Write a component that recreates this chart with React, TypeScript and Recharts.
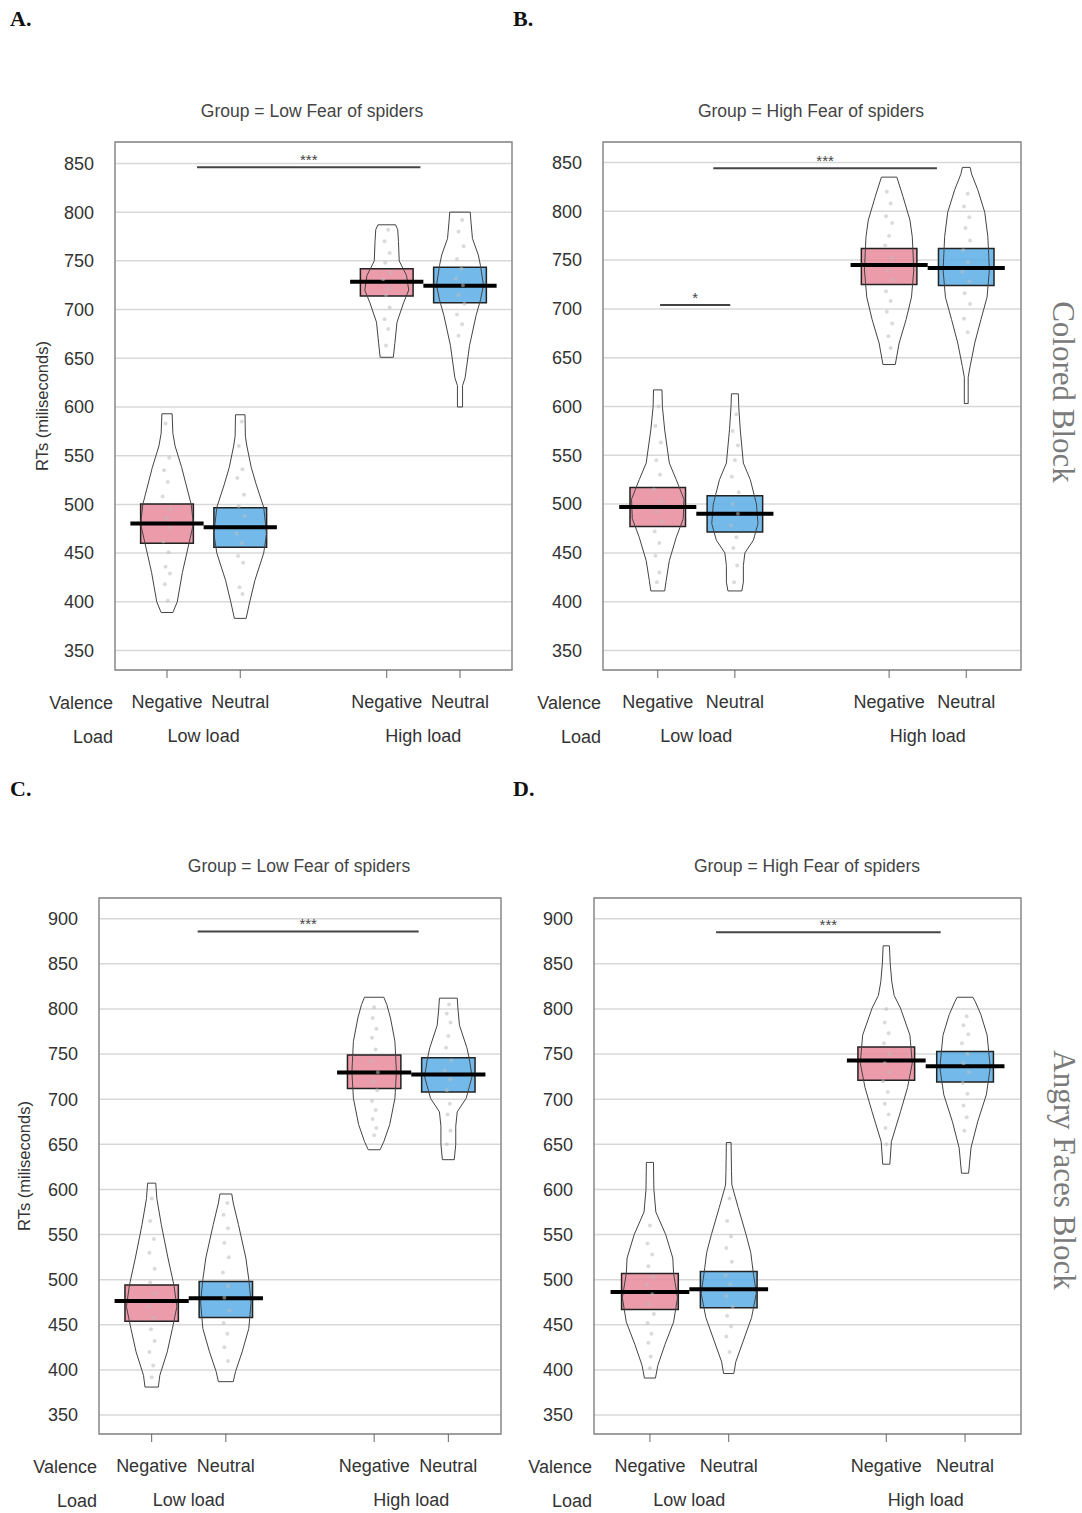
import React from "react";
import {
  ComposedChart,
  Line,
  Scatter,
  XAxis,
  YAxis,
  CartesianGrid,
  ReferenceArea,
  ReferenceLine,
  Label,
} from "recharts";

// groups on the x axis (pirate plot positions, gap between loads)
const POSITIONS = [1, 2, 4, 5];
const VALENCE = ["Negative", "Neutral", "Negative", "Neutral"];
const LOAD_POSITIONS = [1.5, 4.5];
const LOADS = ["Low load", "High load"];
const X_DOMAIN = [0.29, 5.71];

const TICKS_COLORED = [350, 400, 450, 500, 550, 600, 650, 700, 750, 800, 850];
const TICKS_FACES = [350, 400, 450, 500, 550, 600, 650, 700, 750, 800, 850, 900];

// ---- A. Colored block, low fear ----
const A_MEAN = [480.5, 476.5, 728.5, 724.5];
const A_CI_LO = [460, 456, 714, 707];
const A_CI_HI = [500.5, 496.5, 742, 743.5];
// violin outline: [RT, half width in x units], bottom to top
const A_VIOLINS = [
  [[389, 0.08], [400, 0.14], [430, 0.21], [460, 0.3], [480, 0.36], [500, 0.33], [538, 0.2], [560, 0.11], [573, 0.08], [593, 0.07]],
  [[383, 0.08], [400, 0.13], [422, 0.2], [450, 0.32], [470, 0.36], [497, 0.32], [520, 0.22], [538, 0.15], [560, 0.09], [570, 0.07], [592, 0.065]],
  [[651, 0.09], [665, 0.11], [687, 0.14], [707, 0.23], [720, 0.3], [735, 0.27], [750, 0.17], [770, 0.16], [782, 0.15], [787, 0.12]],
  [[600, 0.035], [622, 0.035], [630, 0.07], [663, 0.13], [694, 0.22], [710, 0.28], [725, 0.32], [745, 0.28], [756, 0.25], [773, 0.17], [790, 0.15], [800, 0.14]],
];
const A_POINTS = [
  [[583, -0.02], [548, 0.03], [535, -0.04], [523, 0.01], [508, -0.06], [495, 0.05], [486, -0.01], [476, 0.04], [462, -0.05], [451, 0.02], [436, -0.02], [429, 0.04], [418, -0.03], [401, 0.01]],
  [[585, 0.02], [560, -0.02], [536, 0.03], [527, -0.04], [510, 0.05], [498, -0.02], [488, 0.06], [470, -0.05], [460, 0.02], [447, -0.03], [440, 0.04], [415, -0.01], [408, 0.03]],
  [[782, 0.02], [770, -0.03], [758, 0.04], [748, -0.02], [738, 0.05], [731, -0.05], [722, 0.03], [715, -0.01], [702, 0.04], [690, -0.03], [680, 0.02], [663, -0.01]],
  [[792, 0.03], [780, -0.02], [765, 0.05], [752, -0.04], [742, 0.02], [732, -0.06], [725, 0.04], [715, -0.02], [706, 0.06], [695, -0.04], [685, 0.03], [673, -0.02]],
];
const A_SIG = [{ from: 1.41, to: 4.46, y: 846, text: "***" }];

// ---- B. Colored block, high fear ----
const B_MEAN = [497, 490, 745, 742];
const B_CI_LO = [477, 471.5, 725, 724];
const B_CI_HI = [517, 508.5, 762, 762];
const B_VIOLINS = [
  [[411, 0.09], [422, 0.11], [442, 0.15], [466, 0.24], [485, 0.33], [505, 0.34], [525, 0.24], [542, 0.15], [576, 0.09], [600, 0.06], [617, 0.055]],
  [[411, 0.09], [420, 0.11], [437, 0.11], [450, 0.13], [463, 0.24], [480, 0.3], [500, 0.28], [525, 0.2], [542, 0.11], [576, 0.07], [600, 0.05], [613, 0.045]],
  [[643, 0.08], [665, 0.13], [689, 0.22], [712, 0.29], [740, 0.32], [774, 0.3], [791, 0.27], [815, 0.18], [830, 0.12], [835, 0.1]],
  [[603, 0.025], [630, 0.025], [641, 0.05], [665, 0.11], [689, 0.19], [712, 0.27], [740, 0.3], [774, 0.28], [799, 0.24], [822, 0.15], [838, 0.07], [845, 0.05]],
];
const B_POINTS = [
  [[600, 0.01], [580, -0.03], [563, 0.04], [545, -0.02], [530, 0.03], [515, -0.05], [503, 0.04], [492, -0.02], [482, 0.05], [472, -0.04], [460, 0.02], [447, -0.03], [430, 0.02], [420, -0.01]],
  [[592, 0.02], [575, -0.03], [560, 0.04], [545, 0.0], [528, -0.04], [512, 0.05], [500, -0.03], [490, 0.04], [478, -0.05], [466, 0.02], [455, -0.02], [437, 0.03], [420, -0.01]],
  [[820, -0.03], [808, 0.02], [795, -0.04], [788, 0.04], [775, 0.0], [765, -0.05], [752, 0.04], [740, -0.02], [730, 0.05], [718, -0.04], [708, 0.02], [697, -0.03], [685, 0.04], [672, -0.01], [660, 0.02]],
  [[818, 0.02], [805, -0.03], [794, 0.04], [783, -0.01], [770, 0.05], [760, -0.04], [748, 0.02], [738, -0.05], [728, 0.04], [716, -0.02], [705, 0.05], [690, -0.03], [676, 0.02]],
];
const B_SIG = [
  { from: 1.72, to: 4.62, y: 844, text: "***" },
  { from: 1.03, to: 1.94, y: 704, text: "*" },
];

// ---- C. Angry faces block, low fear ----
const C_MEAN = [476.5, 479.5, 729.5, 727.5];
const C_CI_LO = [454, 458, 712, 708];
const C_CI_HI = [494, 498, 749, 746];
const C_VIOLINS = [
  [[381, 0.09], [394, 0.11], [420, 0.21], [446, 0.28], [470, 0.34], [494, 0.3], [524, 0.22], [561, 0.13], [590, 0.07], [607, 0.055]],
  [[387, 0.1], [398, 0.13], [420, 0.22], [446, 0.31], [475, 0.34], [500, 0.31], [524, 0.27], [561, 0.17], [585, 0.1], [595, 0.08]],
  [[644, 0.08], [653, 0.13], [672, 0.21], [701, 0.28], [730, 0.3], [764, 0.28], [790, 0.22], [805, 0.17], [813, 0.13]],
  [[633, 0.08], [650, 0.1], [670, 0.1], [686, 0.12], [701, 0.24], [725, 0.32], [746, 0.28], [757, 0.25], [782, 0.15], [800, 0.13], [812, 0.12]],
];
const C_POINTS = [
  [[590, 0.0], [565, -0.02], [545, 0.03], [530, -0.03], [512, 0.04], [497, -0.02], [485, 0.05], [470, -0.04], [458, 0.03], [445, -0.01], [432, 0.04], [420, -0.03], [405, 0.02], [392, 0.0]],
  [[585, 0.02], [572, -0.03], [557, 0.03], [541, -0.02], [525, 0.04], [508, -0.04], [493, 0.03], [480, -0.02], [466, 0.05], [452, -0.03], [440, 0.02], [425, -0.02], [410, 0.03]],
  [[802, 0.0], [790, -0.02], [778, 0.03], [768, -0.03], [755, 0.02], [742, -0.04], [730, 0.05], [720, -0.01], [710, 0.04], [698, -0.03], [688, 0.02], [678, -0.02], [668, 0.03], [660, 0.0]],
  [[805, 0.01], [795, -0.02], [785, 0.03], [770, 0.0], [757, -0.03], [743, 0.04], [732, -0.05], [722, 0.03], [710, -0.02], [695, 0.02], [683, -0.01], [665, 0.03], [650, -0.02]],
];
const C_SIG = [{ from: 1.62, to: 4.6, y: 886, text: "***" }];

// ---- D. Angry faces block, high fear ----
const D_MEAN = [486.5, 489.5, 743, 736.5];
const D_CI_LO = [467, 469, 721, 719];
const D_CI_HI = [507, 509, 758, 753];
const D_VIOLINS = [
  [[391, 0.07], [405, 0.1], [428, 0.19], [453, 0.3], [480, 0.35], [507, 0.3], [524, 0.29], [550, 0.2], [575, 0.075], [600, 0.05], [630, 0.045]],
  [[396, 0.065], [409, 0.09], [431, 0.18], [458, 0.29], [485, 0.35], [509, 0.31], [530, 0.28], [550, 0.22], [580, 0.12], [605, 0.04], [620, 0.035], [652, 0.03]],
  [[628, 0.045], [653, 0.065], [686, 0.18], [713, 0.27], [740, 0.33], [771, 0.3], [801, 0.18], [815, 0.1], [830, 0.07], [850, 0.05], [870, 0.04]],
  [[618, 0.045], [646, 0.075], [675, 0.16], [705, 0.27], [735, 0.32], [771, 0.28], [794, 0.2], [808, 0.13], [813, 0.1]],
];
const D_POINTS = [
  [[560, 0.0], [540, -0.03], [528, 0.03], [515, -0.02], [503, 0.04], [494, -0.04], [484, 0.03], [473, -0.02], [462, 0.05], [452, -0.03], [440, 0.02], [430, -0.02], [415, 0.01], [402, 0.0]],
  [[590, 0.01], [565, -0.02], [548, 0.03], [535, -0.03], [520, 0.04], [505, -0.04], [495, 0.02], [482, -0.03], [470, 0.05], [460, -0.02], [448, 0.03], [437, -0.03], [420, 0.01]],
  [[800, 0.0], [785, -0.02], [773, 0.03], [762, -0.03], [750, 0.04], [740, -0.02], [730, 0.04], [720, -0.04], [708, 0.02], [695, -0.02], [683, 0.03], [668, -0.01], [650, 0.0]],
  [[792, 0.02], [782, -0.02], [772, 0.04], [762, -0.04], [750, 0.03], [740, -0.02], [730, 0.05], [718, -0.03], [706, 0.03], [693, -0.02], [680, 0.02], [665, -0.01]],
];
const D_SIG = [{ from: 1.84, to: 4.69, y: 885, text: "***" }];

const FILLS = ["#e8899a", "#5aaee6", "#e8899a", "#5aaee6"];
const BOX_HALF = 0.36;
const MEAN_HALF = 0.5;
const FONT = '"Liberation Sans", Arial, sans-serif';
const FS = 18;

type Pair = number[];
interface PanelProps {
  means: number[];
  ciLo: number[];
  ciHi: number[];
  violins: Pair[][];
  points: Pair[][];
  sig: { from: number; to: number; y: number; text: string }[];
  yDomain: number[];
  yTicks: number[];
  width: number;
  height: number;
  margin: { top: number; right: number; bottom: number; left: number };
  yAxisWidth: number;
  yLabelOffset?: number;
}

function outline(center: number, profile: Pair[]) {
  const left = profile.map(([v, w]) => ({ x: center - w, y: v }));
  const right = [...profile].reverse().map(([v, w]) => ({ x: center + w, y: v }));
  return [...left, ...right, left[0]];
}

const Dot = (p: any) => <circle cx={p.cx} cy={p.cy} r={2} fill="#bdbdbd" fillOpacity={0.55} />;

function Panel(props: PanelProps) {
  const { means, ciLo, ciHi, violins, points, sig, yDomain, yTicks } = props;
  return (
    <ComposedChart width={props.width} height={props.height} margin={props.margin}>
      <CartesianGrid vertical={false} stroke="#d8d8d8" strokeWidth={1.5} />
      <XAxis
        type="number"
        dataKey="x"
        domain={X_DOMAIN}
        allowDataOverflow
        ticks={POSITIONS}
        interval={0}
        tickFormatter={(v) => VALENCE[POSITIONS.indexOf(v)]}
        axisLine={false}
        tickLine={{ stroke: "#666" }}
        tickSize={8}
        tickMargin={17}
        height={66}
        tick={{ fill: "#333", fontSize: FS }}
      >
        <Label value="Valence" position="left" offset={2} fill="#333" fontSize={FS} />
      </XAxis>
      <XAxis
        xAxisId="load"
        type="number"
        dataKey="x"
        domain={X_DOMAIN}
        allowDataOverflow
        ticks={LOAD_POSITIONS}
        interval={0}
        tickFormatter={(v) => LOADS[LOAD_POSITIONS.indexOf(v)]}
        axisLine={false}
        tickLine={false}
        tickSize={0}
        tickMargin={-7}
        height={1}
        tick={{ fill: "#333", fontSize: FS }}
      >
        <Label value="Load" position="left" offset={2} fill="#333" fontSize={FS} />
      </XAxis>
      <YAxis
        type="number"
        dataKey="y"
        domain={yDomain}
        allowDataOverflow
        ticks={yTicks}
        interval={0}
        axisLine={false}
        tickLine={false}
        tickSize={0}
        tickMargin={21}
        width={props.yAxisWidth}
        tick={{ fill: "#333", fontSize: FS }}
      >
        {props.yLabelOffset !== undefined && (
          <Label
            value="RTs (miliseconds)"
            angle={-90}
            position="insideLeft"
            offset={props.yLabelOffset}
            fill="#333"
            fontSize={16.5}
            style={{ textAnchor: "middle" }}
          />
        )}
      </YAxis>

      {points.map((grp, i) => (
        <Scatter
          key={"p" + i}
          data={grp.map(([v, dx]) => ({ x: POSITIONS[i] + dx, y: v }))}
          dataKey="y"
          shape={Dot}
          isAnimationActive={false}
        />
      ))}

      {violins.map((prof, i) => (
        <Line
          key={"v" + i}
          data={outline(POSITIONS[i], prof)}
          dataKey="y"
          type="linear"
          stroke="#444"
          strokeWidth={1}
          dot={false}
          activeDot={false}
          isAnimationActive={false}
        />
      ))}

      {POSITIONS.map((c, i) => (
        <ReferenceArea
          key={"b" + i}
          x1={c - BOX_HALF}
          x2={c + BOX_HALF}
          y1={ciLo[i]}
          y2={ciHi[i]}
          fill={FILLS[i]}
          fillOpacity={0.85}
          stroke="#222"
          strokeWidth={1.5}
          ifOverflow="visible"
        />
      ))}

      {POSITIONS.map((c, i) => (
        <ReferenceLine
          key={"m" + i}
          segment={[
            { x: c - MEAN_HALF, y: means[i] },
            { x: c + MEAN_HALF, y: means[i] },
          ]}
          stroke="#000"
          strokeWidth={4}
          ifOverflow="visible"
        />
      ))}

      {sig.map((s, i) => (
        <ReferenceLine
          key={"s" + i}
          segment={[
            { x: s.from, y: s.y },
            { x: s.to, y: s.y },
          ]}
          stroke="#444"
          strokeWidth={2}
          ifOverflow="visible"
        >
          <Label value={s.text} position="top" offset={2} fill="#444" fontSize={15} />
        </ReferenceLine>
      ))}

      <ReferenceArea
        x1={X_DOMAIN[0]}
        x2={X_DOMAIN[1]}
        y1={yDomain[0]}
        y2={yDomain[1]}
        fill="none"
        stroke="#888"
        strokeWidth={1.5}
        ifOverflow="visible"
      />
    </ComposedChart>
  );
}

const abs = (left: number, top: number): React.CSSProperties => ({ position: "absolute", left, top });

const letterStyle: React.CSSProperties = {
  position: "absolute",
  fontFamily: '"Liberation Serif", "Times New Roman", serif',
  fontWeight: "bold",
  fontSize: 22,
  color: "#111",
};

const titleStyle = (cx: number, cy: number): React.CSSProperties => ({
  position: "absolute",
  left: cx,
  top: cy,
  transform: "translate(-50%, -50%)",
  fontFamily: FONT,
  fontSize: 17.5,
  color: "#444",
  whiteSpace: "nowrap",
});

const sideStyle = (cx: number, cy: number): React.CSSProperties => ({
  position: "absolute",
  left: cx,
  top: cy,
  transform: "translate(-50%, -50%)",
  writingMode: "vertical-rl",
  fontFamily: '"Liberation Serif", "Times New Roman", serif',
  fontSize: 31,
  lineHeight: "30px",
  color: "#7a7a7a",
  whiteSpace: "nowrap",
});

export default function App() {
  return (
    <div style={{ position: "absolute", left: 0, top: 0, width: 1082, height: 1513, background: "#fff", fontFamily: FONT, overflow: "hidden" }}>
      <div style={{ ...letterStyle, left: 10, top: 6 }}>A.</div>
      <div style={{ ...letterStyle, left: 513, top: 6 }}>B.</div>
      <div style={{ ...letterStyle, left: 10, top: 776 }}>C.</div>
      <div style={{ ...letterStyle, left: 513, top: 776 }}>D.</div>

      <div style={titleStyle(312, 111)}>Group = Low Fear of spiders</div>
      <div style={titleStyle(811, 111)}>Group = High Fear of spiders</div>
      <div style={titleStyle(299, 866)}>Group = Low Fear of spiders</div>
      <div style={titleStyle(807, 866)}>Group = High Fear of spiders</div>

      <div style={sideStyle(1063, 392)}>Colored Block</div>
      <div style={sideStyle(1064, 1170)}>Angry Faces Block</div>

      <div style={abs(0, 130)}>
        <Panel
          means={A_MEAN}
          ciLo={A_CI_LO}
          ciHi={A_CI_HI}
          violins={A_VIOLINS}
          points={A_POINTS}
          sig={A_SIG}
          yDomain={[330, 872]}
          yTicks={TICKS_COLORED}
          width={520}
          height={620}
          margin={{ top: 12, right: 8, bottom: 13, left: 0 }}
          yAxisWidth={115}
          yLabelOffset={42}
        />
      </div>
      <div style={abs(520, 130)}>
        <Panel
          means={B_MEAN}
          ciLo={B_CI_LO}
          ciHi={B_CI_HI}
          violins={B_VIOLINS}
          points={B_POINTS}
          sig={B_SIG}
          yDomain={[330, 871]}
          yTicks={TICKS_COLORED}
          width={510}
          height={620}
          margin={{ top: 12, right: 9, bottom: 13, left: 0 }}
          yAxisWidth={83}
        />
      </div>
      <div style={abs(0, 885)}>
        <Panel
          means={C_MEAN}
          ciLo={C_CI_LO}
          ciHi={C_CI_HI}
          violins={C_VIOLINS}
          points={C_POINTS}
          sig={C_SIG}
          yDomain={[329, 923]}
          yTicks={TICKS_FACES}
          width={520}
          height={629}
          margin={{ top: 13, right: 19, bottom: 13, left: 0 }}
          yAxisWidth={99}
          yLabelOffset={24}
        />
      </div>
      <div style={abs(520, 885)}>
        <Panel
          means={D_MEAN}
          ciLo={D_CI_LO}
          ciHi={D_CI_HI}
          violins={D_VIOLINS}
          points={D_POINTS}
          sig={D_SIG}
          yDomain={[329, 923]}
          yTicks={TICKS_FACES}
          width={510}
          height={629}
          margin={{ top: 13, right: 9, bottom: 13, left: 0 }}
          yAxisWidth={74}
        />
      </div>
    </div>
  );
}
